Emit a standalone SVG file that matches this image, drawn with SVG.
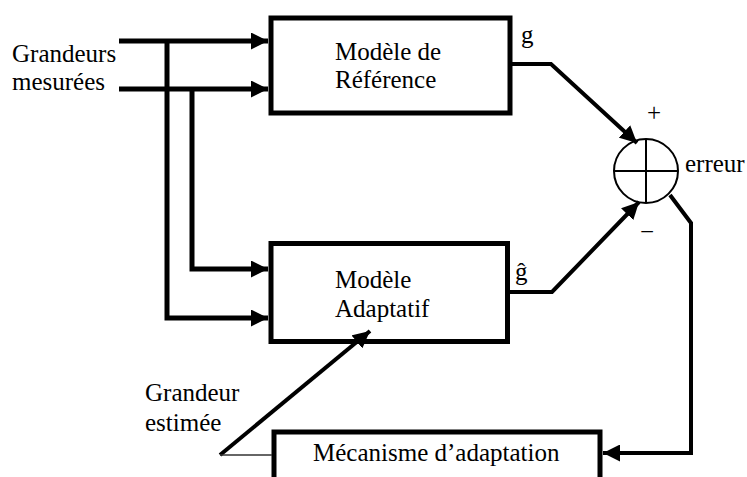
<svg xmlns="http://www.w3.org/2000/svg" width="747" height="477" viewBox="0 0 747 477">
  <style>
    .t { font-family: "Liberation Serif", "Times New Roman", serif; font-size: 25px; fill: #000; }
    .box { fill: none; stroke: #000; stroke-width: 5; }
    .c { fill: none; stroke: #000; stroke-width: 5; stroke-linejoin: miter; }
    .d { fill: none; stroke: #000; stroke-width: 4; }
    .thin { fill: none; stroke: #333; stroke-width: 1.5; }
  </style>
  <defs>
    <marker id="arr" markerUnits="userSpaceOnUse" markerWidth="17" markerHeight="17" refX="17" refY="8.5" orient="auto">
      <path d="M0,0 L17,8.5 L0,17 z" fill="#000"/>
    </marker>
  </defs>
  <rect width="747" height="477" fill="#fff"/>

  <g id="labels">
    <text class="t" x="12" y="62">Grandeurs</text>
    <text class="t" x="12" y="90">mesurées</text>
    <text class="t" x="145" y="401">Grandeur</text>
    <text class="t" x="145" y="431">estimée</text>
    <text class="t" x="521" y="43">g</text>
    <text class="t" x="515" y="280">ĝ</text>
    <text class="t" x="654" y="121" text-anchor="middle">+</text>
    <text class="t" x="647" y="240" text-anchor="middle">−</text>
    <text class="t" x="685" y="172">erreur</text>
  </g>

  <g id="reference">
    <rect class="box" x="271" y="18" width="239" height="95"/>
    <text class="t" x="335" y="60">Modèle de</text>
    <text class="t" x="335" y="88">Référence</text>
  </g>

  <g id="adaptatif">
    <rect class="box" x="271" y="243.5" width="236.5" height="98"/>
    <text class="t" x="335" y="288">Modèle</text>
    <text class="t" x="335" y="317">Adaptatif</text>
  </g>

  <g id="mecanisme">
    <rect class="box" x="274" y="432" width="326" height="60"/>
    <text class="t" x="313" y="461">Mécanisme d’adaptation</text>
  </g>

  <g id="sommateur">
    <circle cx="646" cy="171" r="32" fill="#fff" stroke="#000" stroke-width="2"/>
    <line x1="614" y1="171" x2="678" y2="171" stroke="#000" stroke-width="2"/>
    <line x1="646" y1="139" x2="646" y2="203" stroke="#000" stroke-width="2"/>
  </g>

  <g id="connectors">
    <line class="c" x1="119" y1="41" x2="268" y2="41" marker-end="url(#arr)"/>
    <line class="c" x1="119" y1="89" x2="268" y2="89" marker-end="url(#arr)"/>
    <polyline class="c" points="167,41 167,318 268,318" marker-end="url(#arr)"/>
    <polyline class="c" points="192,89 192,269 268,269" marker-end="url(#arr)"/>
    <polyline class="d" points="510,64 551,64 637,143" marker-end="url(#arr)"/>
    <polyline class="d" points="507,292 552,292 639,202" marker-end="url(#arr)"/>
    <polyline class="d" points="670,195 691,223 691,453 603,453" marker-end="url(#arr)"/>
    <line class="d" x1="220" y1="455" x2="370" y2="331" stroke-width="3.5" marker-end="url(#arr)"/>
    <line class="thin" x1="220" y1="455" x2="272" y2="455"/>
  </g>
</svg>
